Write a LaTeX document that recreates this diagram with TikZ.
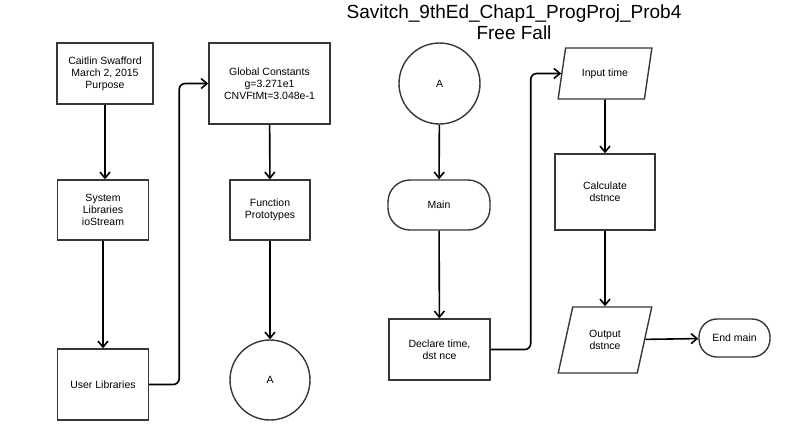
\documentclass[tikz,border=0pt]{standalone}
\usepackage{fontspec}
\setmainfont{Liberation Sans}
\usetikzlibrary{shapes.geometric, arrows.meta}
\definecolor{edgegrey}{RGB}{55, 55, 55}
\definecolor{flowblack}{RGB}{0, 0, 0}

\begin{document}
\begin{tikzpicture}[x=1pt, y=-1pt,
        box/.style={rectangle, draw=edgegrey, line width=1.4pt, inner sep=0pt,
                align=center, font=\fontsize{10.5}{12}\selectfont},
        connector/.style={circle, draw=edgegrey, line width=1.4pt, inner sep=0pt,
                minimum size=80, font=\fontsize{10.5}{12}\selectfont},
        terminal/.style={box, rounded corners=22pt},
        io/.style={trapezium, trapezium left angle=66, trapezium right angle=114,
                trapezium stretches=true, draw=edgegrey, line width=1.4pt, inner sep=0pt,
                align=center, font=\fontsize{10.5}{12}\selectfont},
        flow/.style={draw=flowblack, line width=1.6pt, -{Straight Barb[length=6pt, width=10pt]}}]

        % keep the page at the size of the reference
        \useasboundingbox (0, 0) rectangle (809, 440);

        % title
        \node[align=center, inner sep=0pt, font=\fontsize{19}{21}\selectfont] (title) at (514, 22)
                {Savitch\_9thEd\_Chap1\_ProgProj\_Prob4\\Free Fall};

        % first column: header and libraries
        \node[box, minimum width=96, minimum height=61] (author) at (105, 73.5)
                {Caitlin Swafford\\March 2, 2015\\Purpose};
        \node[box, minimum width=91, minimum height=60] (syslib) at (103, 210)
                {System\\Libraries\\ioStream};
        \node[box, minimum width=91, minimum height=71] (userlib) at (103, 384.5) {User Libraries};

        % second column: constants and prototypes
        \node[box, minimum width=121, minimum height=81] (constants) at (269.5, 83.5)
                {Global Constants\\g=3.271e1\\CNVFtMt=3.048e-1};
        \node[box, minimum width=80, minimum height=60] (protos) at (270, 210) {Function\\Prototypes};
        \node[connector] (linkout) at (270, 380) {A};

        % third column: entering main
        \node[connector, minimum size=81] (linkin) at (439.5, 83.5) {A};
        \node[terminal, minimum width=102, minimum height=50] (main) at (439, 205) {Main};
        \node[box, minimum width=101, minimum height=61] (declare) at (439.5, 349.5)
                {Declare time,\\dst nce};

        % fourth column: input, process, output
        \node[io, minimum width=94, minimum height=51] (input) at (605, 73.5) {Input time};
        \node[box, minimum width=100, minimum height=76] (calc) at (605, 192) {Calculate\\dstnce};
        \node[io, trapezium left angle=70, trapezium right angle=110,
                minimum width=94, minimum height=66] (output) at (605, 340) {Output\\dstnce};
        \node[terminal, rounded corners=18pt, minimum width=71, minimum height=38] (endmain)
                at (734.5, 338) {End main};

        % straight arrows
        \draw[flow] (author.south) -- (author.south |- syslib.north);
        \draw[flow] (syslib) -- (userlib);
        \draw[flow] (constants) -- (protos);
        \draw[flow] (protos) -- (linkout);
        \draw[flow] (linkin) -- (main);
        \draw[flow] (main) -- (declare);
        \draw[flow] (input) -- (calc);
        \draw[flow] (calc) -- (output);
        \draw[flow] (output) -- (endmain);

        % arrows that climb back to the top of the next column
        \draw[flow, rounded corners=6pt] (userlib.east) -- ++(30, 0) |- (constants.west);
        \draw[flow, rounded corners=6pt] (declare.east) -- ++(40, 0) |- (input.west);
    \end{tikzpicture}
\end{document}
